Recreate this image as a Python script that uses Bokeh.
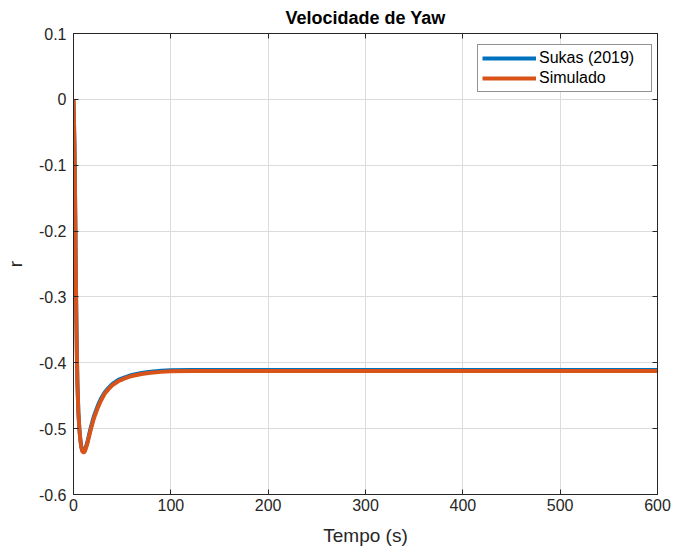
from bokeh.plotting import figure
from bokeh.models import Legend, LegendItem, LinearAxis, FixedTicker, Range1d
from bokeh.embed import file_html
from bokeh.resources import INLINE

# Yaw rate response: reference (Sukas 2019) vs simulation
t_ref = [0, 1, 2, 2.5, 3, 3.5, 4, 5, 6, 7, 8, 9, 10, 11, 12, 14, 16, 18, 20, 22, 25, 28,
         32, 36, 40, 46, 52, 60, 70, 77, 90, 100, 120, 150, 200, 300, 400, 500, 600]
r_ref = [0, -0.07, -0.20, -0.28, -0.34, -0.39, -0.43, -0.475, -0.50, -0.516, -0.527,
         -0.533, -0.535, -0.535, -0.531, -0.522, -0.509, -0.497, -0.486, -0.477, -0.465,
         -0.455, -0.445, -0.438, -0.432, -0.426, -0.4225, -0.4185, -0.4155, -0.4138,
         -0.4122, -0.4115, -0.4110, -0.4108, -0.4108, -0.4108, -0.4108, -0.4108, -0.4108]

t_sim = [0, 1, 2, 2.5, 3, 3.5, 4, 5, 6, 7, 8, 9, 10, 11, 12, 14, 16, 18, 20, 22, 25, 28,
         32, 36, 40, 46, 52, 60, 70, 77, 90, 100, 120, 150, 200, 300, 400, 500, 600]
r_sim = [0, -0.07, -0.20, -0.28, -0.34, -0.39, -0.43, -0.475, -0.50, -0.517, -0.528,
         -0.534, -0.536, -0.536, -0.533, -0.524, -0.512, -0.500, -0.489, -0.480, -0.468,
         -0.458, -0.447, -0.440, -0.434, -0.428, -0.424, -0.420, -0.417, -0.4155,
         -0.4138, -0.4130, -0.4125, -0.4123, -0.4123, -0.4123, -0.4123, -0.4123, -0.4123]

x_ticks = [0, 100, 200, 300, 400, 500, 600]
y_ticks = [0.1, 0, -0.1, -0.2, -0.3, -0.4, -0.5, -0.6]
y_tick_labels = ["0.1", "0", "-0.1", "-0.2", "-0.3", "-0.4", "-0.5", "-0.6"]

FONT = "Liberation Sans"
AX = "#262626"

p = figure(width=673, height=553, output_backend="svg", toolbar_location=None,
           x_range=Range1d(0, 600), y_range=Range1d(-0.6, 0.1),
           min_border_left=73, min_border_right=16, min_border_top=32,
           min_border_bottom=59, background_fill_color="white",
           border_fill_color="white")

p.title.text = "Velocidade de Yaw"
p.title.align = "center"
p.title.text_font = FONT
p.title.text_font_size = "18px"
p.title.text_font_style = "bold"
p.title.text_color = "black"
p.title.standoff = 11

p.outline_line_color = AX
p.outline_line_width = 1

def style_axis(ax, show_labels):
    ax.axis_line_color = AX
    ax.major_tick_line_color = AX
    ax.major_tick_in = 5
    ax.major_tick_out = 0
    ax.minor_tick_line_color = None
    ax.major_label_text_font = FONT
    ax.major_label_text_font_size = "16px"
    ax.major_label_text_color = AX
    if not show_labels:
        ax.major_label_text_alpha = 0
        ax.major_label_text_font_size = "1px"

p.xaxis.ticker = FixedTicker(ticks=x_ticks)
p.yaxis.ticker = FixedTicker(ticks=y_ticks)
p.yaxis.major_label_overrides = {v: s for v, s in zip(y_ticks, y_tick_labels)}
style_axis(p.xaxis[0], True)
style_axis(p.yaxis[0], True)
p.xaxis.axis_label = "Tempo (s)"
p.yaxis.axis_label = "r"
for ax in (p.xaxis[0], p.yaxis[0]):
    ax.axis_label_text_font = FONT
    ax.axis_label_text_font_size = "19px"
    ax.axis_label_text_font_style = "normal"
    ax.axis_label_text_color = AX
p.xaxis.major_label_standoff = 4
p.xaxis.axis_label_standoff = 11
p.yaxis.major_label_standoff = 7
p.yaxis.axis_label_standoff = 10

top_ax = LinearAxis(ticker=FixedTicker(ticks=x_ticks))
right_ax = LinearAxis(ticker=FixedTicker(ticks=y_ticks))
style_axis(top_ax, False)
style_axis(right_ax, False)
p.add_layout(top_ax, "above")
p.add_layout(right_ax, "right")

p.xgrid.ticker = FixedTicker(ticks=x_ticks)
p.ygrid.ticker = FixedTicker(ticks=y_ticks)
p.grid.grid_line_color = "#dcdcdc"
p.grid.grid_line_width = 1

l_ref = p.line(t_ref, r_ref, line_color="#0072BD", line_width=4)
l_sim = p.line(t_sim, r_sim, line_color="#D95319", line_width=4)

legend = Legend(items=[LegendItem(label="Sukas (2019)", renderers=[l_ref]),
                       LegendItem(label="Simulado", renderers=[l_sim])],
                location=(404, 402))
legend.label_text_font = FONT
legend.label_text_font_size = "16px"
legend.label_text_color = "black"
legend.border_line_color = AX
legend.border_line_width = 1
legend.background_fill_color = "white"
legend.background_fill_alpha = 1
legend.glyph_width = 54
legend.glyph_height = 18
legend.label_height = 18
legend.label_width = 108
legend.label_standoff = 3
legend.spacing = 2
legend.padding = 4
legend.margin = 0
p.add_layout(legend, "center")

open("out.html", "w").write(file_html(p, INLINE))
